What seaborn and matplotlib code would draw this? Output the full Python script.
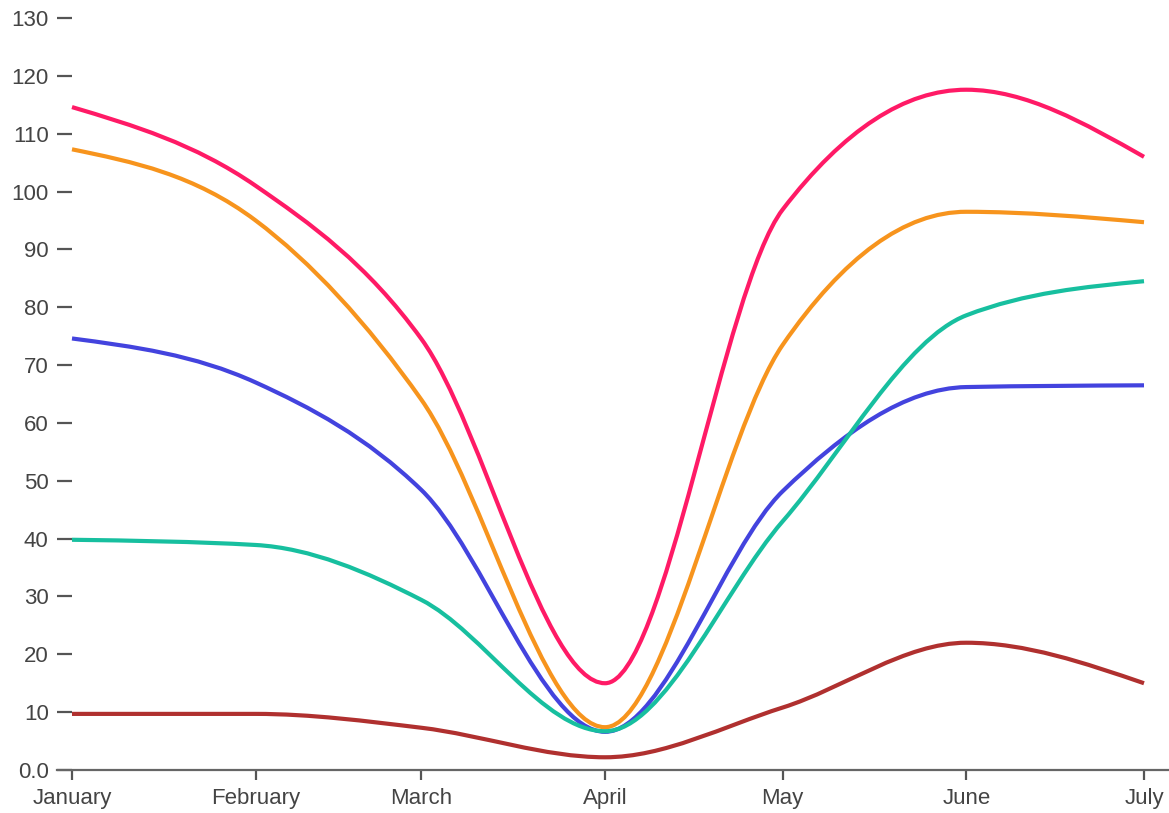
"""Five monthly series, smooth monotone curves on a time axis."""

from datetime import datetime

import matplotlib.dates as mdates
import matplotlib.pyplot as plt
import numpy as np
import seaborn as sns
from matplotlib.patches import PathPatch
from matplotlib.path import Path


months = ["January", "February", "March", "April", "May", "June", "July"]
month_dates = [datetime(2019, m, 1) for m in range(1, 8)]

pink = [114.6, 101.0, 74.5, 15.0, 96.9, 117.6, 106.0]
orange = [107.3, 95.0, 64.0, 7.4, 73.5, 96.5, 94.7]
blue = [74.6, 67.0, 48.4, 6.6, 48.2, 66.2, 66.5]
teal = [39.8, 38.9, 29.4, 6.7, 43.0, 78.6, 84.5]
brown = [9.7, 9.7, 7.3, 2.2, 10.8, 22.0, 15.0]

series = [pink, orange, blue, teal, brown]
colors = ["#ff1a66", "#f7941d", "#4343de", "#17bf9f", "#b0302f"]

y_ticks = list(range(0, 131, 10))
y_labels = ["0.0"] + [str(v) for v in y_ticks[1:]]


def monotone_path(x, y):
    """Cubic bezier path with monotone-x tangents (as d3.curveMonotoneX)."""
    x = np.asarray(x, float)
    y = np.asarray(y, float)
    h = np.diff(x)
    s = np.diff(y) / h
    t = np.zeros(len(x))
    for i in range(1, len(x) - 1):
        p = (s[i - 1] * h[i] + s[i] * h[i - 1]) / (h[i - 1] + h[i])
        t[i] = (np.sign(s[i - 1]) + np.sign(s[i])) * min(
            abs(s[i - 1]), abs(s[i]), 0.5 * abs(p)
        )
    t[0] = (3 * s[0] - t[1]) / 2
    t[-1] = (3 * s[-1] - t[-2]) / 2

    verts = [(x[0], y[0])]
    codes = [Path.MOVETO]
    for i in range(len(x) - 1):
        dx = h[i] / 3
        verts += [
            (x[i] + dx, y[i] + dx * t[i]),
            (x[i + 1] - dx, y[i + 1] - dx * t[i + 1]),
            (x[i + 1], y[i + 1]),
        ]
        codes += [Path.CURVE4] * 3
    return Path(verts, codes)


sns.set_theme(style="white")
plt.rcParams["font.family"] = ["Liberation Sans", "DejaVu Sans"]

fig = plt.figure(figsize=(11.69, 8.13), dpi=100)
ax = fig.add_axes([57 / 1169, 43 / 813, 1112 / 1169, 752 / 813])

xnum = mdates.date2num(month_dates)
palette = sns.color_palette(colors)
for vals, col in zip(series, palette):
    path = monotone_path(xnum, vals)
    ax.add_patch(
        PathPatch(path, facecolor="none", edgecolor=col, lw=3.0,
                  capstyle="butt", joinstyle="round")
    )

ax.set_xlim(xnum[0] - 15 / 5.923, xnum[-1] + 25 / 5.923)
ax.set_ylim(0, 130)

ax.set_xticks(xnum)
ax.set_xticklabels(months)
ax.set_yticks(y_ticks)
ax.set_yticklabels(y_labels)

for side in ["top", "right", "left"]:
    ax.spines[side].set_visible(False)
ax.spines["bottom"].set_color("#666666")
ax.spines["bottom"].set_linewidth(1.6)

ax.tick_params(axis="x", direction="out", length=7, width=1.6,
               color="#555555", labelcolor="#444444", labelsize=16, pad=6,
               bottom=True)
ax.tick_params(axis="y", direction="in", length=11, width=1.6,
               color="#555555", labelcolor="#444444", labelsize=16, pad=6,
               left=True)
ax.grid(False)

fig.savefig("out.png", dpi=100)
plt.close(fig)
